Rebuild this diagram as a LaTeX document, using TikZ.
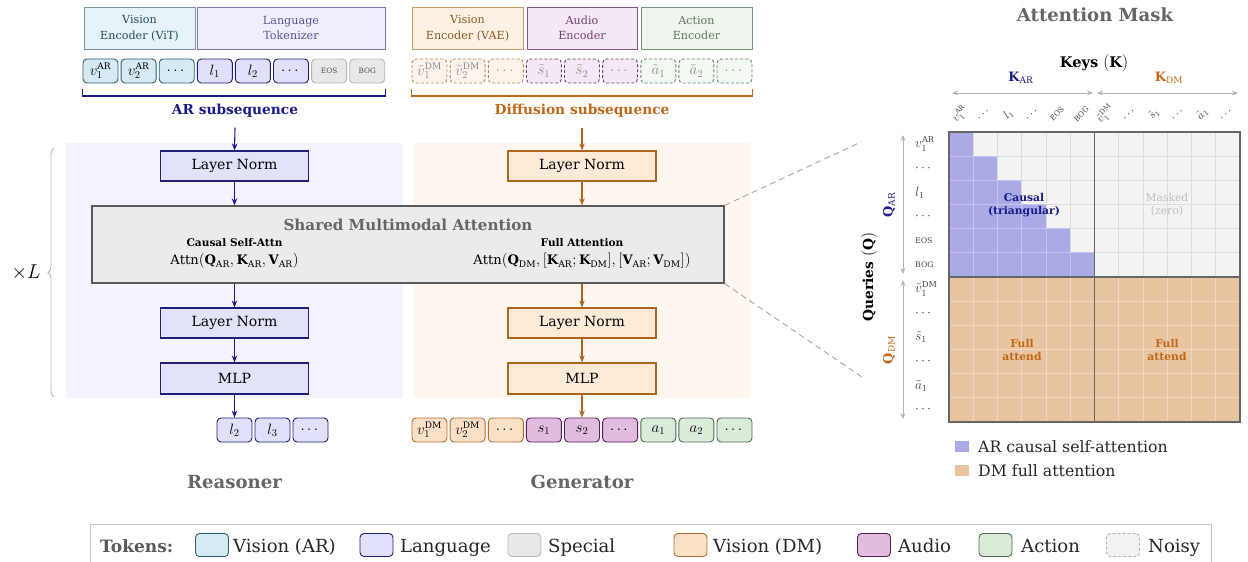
\RequirePackage{fix-cm}
\documentclass[tikz,border=0pt]{standalone}
\usepackage{fontspec}
\setmainfont{DejaVu Serif}[Scale=0.86]
\usepackage{amsmath}
\usetikzlibrary{arrows.meta,decorations.pathreplacing,calc}
\newcommand{\myfs}[1]{\fontsize{#1}{\dimexpr #1pt*6/5\relax}\selectfont}
\definecolor{arblue}{HTML}{1A1A8C}
\definecolor{dmorange}{HTML}{C0671A}
\definecolor{visARfill}{HTML}{D5EAF4}
\definecolor{visARdraw}{HTML}{2C5C74}
\definecolor{langfill}{HTML}{E0E0FA}
\definecolor{langdraw}{HTML}{1E1E78}
\definecolor{specfill}{HTML}{E8E8E8}
\definecolor{specdraw}{HTML}{B8B8B8}
\definecolor{visDMfill}{HTML}{FBE0C8}
\definecolor{visDMdraw}{HTML}{B0702C}
\definecolor{audfill}{HTML}{E0BCE0}
\definecolor{auddraw}{HTML}{5A1E5A}
\definecolor{actfill}{HTML}{DAEBDA}
\definecolor{actdraw}{HTML}{4E6A4E}
\definecolor{leftpanel}{HTML}{F3F4FF}
\definecolor{rightpanel}{HTML}{FFF7EF}
\definecolor{attnfill}{HTML}{EBEBEB}
\definecolor{attndraw}{HTML}{5A5A5A}
\definecolor{titlegray}{HTML}{666666}
\definecolor{lnfillL}{HTML}{E2E2FA}
\definecolor{lnfillR}{HTML}{FDEBD8}
\definecolor{lndrawR}{HTML}{B0651C}
\definecolor{mcaus}{HTML}{AAAAE6}
\definecolor{mcausl}{HTML}{C4C4F0}
\definecolor{mmask}{HTML}{F3F3F3}
\definecolor{mmaskl}{HTML}{DCDCDC}
\definecolor{mfull}{HTML}{E8C4A0}
\definecolor{mfulll}{HTML}{F2D8BE}
\definecolor{mborder}{HTML}{666666}
\definecolor{lightg}{HTML}{B4B4B4}
\begin{document}
\begin{tikzpicture}[x=1pt,y=-1pt,
  tok/.style={draw, rounded corners=4pt, minimum width=35, minimum height=24, inner sep=0pt, line width=0.9pt, font=\myfs{15}},
  visar/.style={tok, fill=visARfill, draw=visARdraw},
  lang/.style={tok, fill=langfill, draw=langdraw},
  spec/.style={tok, fill=specfill, draw=specdraw, font=\myfs{8.5}, text=black!70},
  visdm/.style={tok, fill=visDMfill, draw=visDMdraw},
  aud/.style={tok, fill=audfill, draw=auddraw},
  act/.style={tok, fill=actfill, draw=actdraw},
  noisy/.style={tok, dashed, dash pattern=on 3pt off 2pt, text=black!45},
  enc/.style={draw, line width=0.8pt, align=center, inner sep=0pt, minimum height=42, font=\myfs{13}},
  blk/.style={draw, line width=1.2pt, minimum width=148, minimum height=30, inner sep=0pt, font=\myfs{16.3}},
  blkL/.style={blk, fill=lnfillL, draw=langdraw},
  blkR/.style={blk, fill=lnfillR, draw=lndrawR},
  arrL/.style={draw=arblue, line width=1.1pt, -{Stealth[length=7pt,width=5.5pt]}},
  arrR/.style={draw=lndrawR, line width=1.1pt, -{Stealth[length=7pt,width=5.5pt]}},
  garrow/.style={draw=lightg, line width=0.9pt, {Stealth[length=6pt,width=5pt]}-{Stealth[length=6pt,width=5pt]}},
  dashline/.style={draw=black!35, line width=0.9pt, dash pattern=on 6pt off 4pt},
  sect/.style={font=\bfseries\myfs{21}, text=titlegray},
  lsw/.style={draw, rounded corners=4pt, minimum width=33, minimum height=23, inner sep=0pt, line width=0.9pt},
  ltx/.style={anchor=base west, inner sep=0pt, font=\myfs{21}, text=black!85},
  collab/.style={rotate=45, inner sep=0pt, font=\myfs{12}, text=black!75},
  rowlab/.style={anchor=west, inner sep=0pt, font=\myfs{13.5}, text=black!75}
]
\useasboundingbox (0,0) rectangle (1248,562);

% ---- panels
\fill[leftpanel] (66,143) rectangle (403,398);
\fill[rightpanel] (413,143) rectangle (751,398);

% ---- encoders
\node[enc, fill=visARfill!55, draw=visARdraw!65, text=visARdraw!85!black, minimum width=111] (encvit) at (139.5,28) {Vision\\Encoder (ViT)};
\node[enc, fill=langfill!55, draw=langdraw!60, text=langdraw!75, minimum width=188] (enclang) at (291,28) {Language\\Tokenizer};
\node[enc, fill=visDMfill!45, draw=visDMdraw!70, text=visDMdraw!80!black, minimum width=111] (encvae) at (467.5,28) {Vision\\Encoder (VAE)};
\node[enc, fill=audfill!35, draw=auddraw!75, text=auddraw!85, minimum width=110] (encaud) at (582,28) {Audio\\Encoder};
\node[enc, fill=actfill!45, draw=actdraw!75, text=actdraw!90, minimum width=111] (encact) at (696.5,28) {Action\\Encoder};

% ---- input tokens (AR)
\node[visar] (a1) at (100.5,71) {$v_1^{\mathrm{AR}}$};
\node[visar] (a2) at (138.6,71) {$v_2^{\mathrm{AR}}$};
\node[visar] (a3) at (176.7,71) {$\cdots$};
\node[lang] (a4) at (214.8,71) {$l_1$};
\node[lang] (a5) at (252.9,71) {$l_2$};
\node[lang] (a6) at (291.0,71) {$\cdots$};
\node[spec] (a7) at (329.1,71) {EOS};
\node[spec] (a8) at (367.2,71) {BOG};

% ---- input tokens (DM, noisy)
\node[noisy, fill=visDMfill!35, draw=visDMdraw!85] (d1) at (429.5,71) {$\tilde v_1^{\mathrm{DM}}$};
\node[noisy, fill=visDMfill!35, draw=visDMdraw!85] (d2) at (467.6,71) {$\tilde v_2^{\mathrm{DM}}$};
\node[noisy, fill=visDMfill!35, draw=visDMdraw!85] (d3) at (505.8,71) {$\cdots$};
\node[noisy, fill=audfill!35, draw=auddraw!85] (d4) at (543.9,71) {$\tilde s_1$};
\node[noisy, fill=audfill!35, draw=auddraw!85] (d5) at (582.0,71) {$\tilde s_2$};
\node[noisy, fill=audfill!35, draw=auddraw!85] (d6) at (620.1,71) {$\cdots$};
\node[noisy, fill=actfill!35, draw=actdraw!85] (d7) at (658.3,71) {$\tilde a_1$};
\node[noisy, fill=actfill!35, draw=actdraw!85] (d8) at (696.4,71) {$\tilde a_2$};
\node[noisy, fill=actfill!35, draw=actdraw!85] (d9) at (734.5,71) {$\cdots$};

% ---- brackets
\draw[arblue, line width=1.2pt] (a1.west |- 0,89) -- (a1.west |- 0,96) -- (a8.east |- 0,96) -- (a8.east |- 0,89);
\draw[dmorange, line width=1.2pt] (d1.west |- 0,89) -- (d1.west |- 0,96) -- (d9.east |- 0,96) -- (d9.east |- 0,89);
\node[font=\bfseries\myfs{16}, text=arblue] (arseq) at (235,111) {AR subsequence};
\node[font=\bfseries\myfs{16}, text=dmorange] (dmseq) at (582,111) {Diffusion subsequence};

% ---- blocks
\node[blkL] (ln1) at (234.5,166) {Layer Norm};
\node[blkR] (ln1r) at (582,166) {Layer Norm};
\node[draw=attndraw, fill=attnfill, line width=1.3pt, minimum width=632, minimum height=77, inner sep=0pt] (attn) at (408,244.5) {};
\node[font=\bfseries\myfs{17.6}, text=titlegray] (attntitle) at (408,225) {Shared Multimodal Attention};
\node[font=\bfseries\myfs{12.3}] (causal) at (234.5,243) {Causal Self-Attn};
\node[font=\myfs{15.2}] (causaleq) at (234.5,261) {$\mathrm{Attn}(\mathbf{Q}_{\mathrm{AR}}, \mathbf{K}_{\mathrm{AR}}, \mathbf{V}_{\mathrm{AR}})$};
\node[font=\bfseries\myfs{12.3}] (full) at (582,243) {Full Attention};
\node[font=\myfs{15.2}] (fulleq) at (582,261) {$\mathrm{Attn}(\mathbf{Q}_{\mathrm{DM}}, [\mathbf{K}_{\mathrm{AR}}; \mathbf{K}_{\mathrm{DM}}], [\mathbf{V}_{\mathrm{AR}}; \mathbf{V}_{\mathrm{DM}}])$};
\node[blkL] (ln2) at (234.5,323) {Layer Norm};
\node[blkR] (ln2r) at (582,323) {Layer Norm};
\node[blkL, minimum height=31] (mlp) at (234.5,378.5) {MLP};
\node[blkR, minimum height=31] (mlpr) at (582,378.5) {MLP};

% ---- output tokens
\node[lang] (o1) at (234.5,430) {$l_2$};
\node[lang] (o2) at (272.5,430) {$l_3$};
\node[lang] (o3) at (310.5,430) {$\cdots$};
\node[visdm] (p1) at (429.5,430) {$v_1^{\mathrm{DM}}$};
\node[visdm] (p2) at (467.6,430) {$v_2^{\mathrm{DM}}$};
\node[visdm] (p3) at (505.8,430) {$\cdots$};
\node[aud] (p4) at (543.9,430) {$s_1$};
\node[aud] (p5) at (582.0,430) {$s_2$};
\node[aud] (p6) at (620.1,430) {$\cdots$};
\node[act] (p7) at (658.3,430) {$a_1$};
\node[act] (p8) at (696.4,430) {$a_2$};
\node[act] (p9) at (734.5,430) {$\cdots$};

% ---- arrows
\draw[arrL] ($(arseq.south)+(0,7)$) -- (ln1.north);
\draw[arrL] (ln1.south) -- (ln1.south |- attn.north);
\draw[arrL] (ln1.south |- attn.south) -- (ln2.north);
\draw[arrL] (ln2.south) -- (mlp.north);
\draw[arrL] (mlp.south) -- (o1.north);
\draw[arrR] ($(dmseq.south)+(0,7)$) -- (ln1r.north);
\draw[arrR] (ln1r.south) -- (ln1r.south |- attn.north);
\draw[arrR] (ln1r.south |- attn.south) -- (ln2r.north);
\draw[arrR] (ln2r.south) -- (mlpr.north);
\draw[arrR] (mlpr.south) -- (p5.north);

\node[sect] (reasoner) at (234.5,482) {Reasoner};
\node[sect] (generator) at (582,482) {Generator};

% ---- brace
\draw[lightg, line width=0.9pt, decorate, decoration={brace, amplitude=6pt}] (54,397) -- (54,148);
\node[font=\myfs{20}] (xl) at (26,272) {$\times L$};

% ---- attention mask
\node[sect] (masktitle) at (1095,15) {Attention Mask};
\node[font=\bfseries\myfs{17}] (keys) at (1094,63) {Keys $(\mathbf{K})$};
\node[font=\myfs{15}, text=arblue] (kar) at (1021,78) {$\mathbf{K}_{\mathrm{AR}}$};
\node[font=\myfs{15}, text=dmorange] (kdm) at (1169,78) {$\mathbf{K}_{\mathrm{DM}}$};
\coordinate (ka1) at (952,93); \coordinate (ka2) at (1093,93);
\coordinate (kd1) at (1097,93); \coordinate (kd2) at (1238,93);
\draw[garrow] (ka1) -- (ka2);
\draw[garrow] (kd1) -- (kd2);

\foreach \r in {0,...,11}{
  \foreach \c in {0,...,11}{
    \ifnum\r>5 \def\cf{mfull}\def\cd{mfulll}\else
      \ifnum\c>\r \def\cf{mmask}\def\cd{mmaskl}\else \def\cf{mcaus}\def\cd{mcausl}\fi
    \fi
    \draw[fill=\cf, draw=\cd, line width=0.7pt] (949+\c*24.25, 132+\r*24.1667) rectangle ++(24.25,24.1667);
  }
}
\draw[mborder, line width=1.6pt] (949,132) rectangle (1240,422);
\draw[mborder, line width=1.6pt] (1094.5,132) -- (1094.5,422);
\draw[mborder, line width=1.6pt] (949,277) -- (1240,277);

\node[font=\bfseries\myfs{12.5}, text=arblue, align=center] (causlab) at (1024,205) {Causal\\[-2pt](triangular)};
\node[font=\myfs{12.5}, text=black!25, align=center] (masklab) at (1167,205) {Masked\\[-2pt](zero)};
\node[font=\bfseries\myfs{12.5}, text=dmorange, align=center] (full1) at (1022,350) {Full\\[-2pt]attend};
\node[font=\bfseries\myfs{12.5}, text=dmorange, align=center] (full2) at (1167,350) {Full\\[-2pt]attend};

\foreach \i/\lab in {0/{$v_1^{\mathrm{AR}}$},1/{$\cdots$},2/{$l_1$},3/{$\cdots$},4/{\myfs{8.5}EOS},5/{\myfs{8.5}BOG},6/{$\tilde v_1^{\mathrm{DM}}$},7/{$\cdots$},8/{$\tilde s_1$},9/{$\cdots$},10/{$\tilde a_1$},11/{$\cdots$}}{
  \node[collab] (col\i) at (960+\i*24.25,114) {\lab};
}
\foreach \i/\lab in {0/{$v_1^{\mathrm{AR}}$},1/{$\cdots$},2/{$l_1$},3/{$\cdots$},4/{\myfs{9}EOS},5/{\myfs{9}BOG},6/{$\tilde v_1^{\mathrm{DM}}$},7/{$\cdots$},8/{$\tilde s_1$},9/{$\cdots$},10/{$\tilde a_1$},11/{$\cdots$}}{
  \node[rowlab] (row\i) at (915,144.1+\i*24.1667) {\lab};
}
\coordinate (qa1) at (903,135); \coordinate (qa2) at (903,274);
\coordinate (qd1) at (903,280); \coordinate (qd2) at (903,419);
\draw[garrow] (qa1) -- (qa2);
\draw[garrow] (qd1) -- (qd2);
\node[rotate=90, font=\myfs{15}, text=arblue] (qar) at (889,205) {$\mathbf{Q}_{\mathrm{AR}}$};
\node[rotate=90, font=\myfs{15}, text=dmorange] (qdm) at (889,350) {$\mathbf{Q}_{\mathrm{DM}}$};
\node[rotate=90, font=\bfseries\myfs{16}] (queries) at (869,277) {Queries $(\mathbf{Q})$};

% mask legend
\node[fill=mcaus, minimum width=14, minimum height=11, inner sep=0pt] (lgc) at (962,446) {};
\node[ltx, font=\myfs{18.3}] (lgct) at (978,452) {AR causal self-attention};
\node[fill=mfull, minimum width=14, minimum height=11, inner sep=0pt] (lgf) at (962,470) {};
\node[ltx, font=\myfs{18.3}] (lgft) at (978,476.5) {DM full attention};

% dashed zoom lines
\coordinate (mtl) at (861,142);
\coordinate (mbl) at (862,377);
\draw[dashline] (attn.north east) -- (mtl);
\draw[dashline] (attn.south east) -- (mbl);

% ---- bottom legend
\draw[black!22, line width=1pt] (90,568) -- (90,524) -- (1211,524) -- (1211,568);
\node[anchor=base west, inner sep=0pt, font=\bfseries\myfs{19.8}, text=black!65] (tokl) at (100,552) {Tokens:};
\node[lsw, fill=visARfill, draw=visARdraw] (s1) at (212,545) {};
\node[ltx] (s1t) at (233,552) {Vision (AR)};
\node[lsw, fill=langfill, draw=langdraw] (s2) at (376.5,545) {};
\node[ltx] (s2t) at (400,552) {Language};
\node[lsw, fill=specfill, draw=specdraw] (s3) at (524.5,545) {};
\node[ltx] (s3t) at (548,552) {Special};
\node[lsw, fill=visDMfill, draw=visDMdraw] (s4) at (690.5,545) {};
\node[ltx] (s4t) at (713,552) {Vision (DM)};
\node[lsw, fill=audfill, draw=auddraw] (s5) at (874,545) {};
\node[ltx] (s5t) at (898,552) {Audio};
\node[lsw, fill=actfill, draw=actdraw] (s6) at (995.5,545) {};
\node[ltx] (s6t) at (1021,552) {Action};
\node[lsw, fill=black!5, draw=black!30, dashed, dash pattern=on 3pt off 2pt] (s7) at (1123,545) {};
\node[ltx] (s7t) at (1148,552) {Noisy};
\end{tikzpicture}
\end{document}
